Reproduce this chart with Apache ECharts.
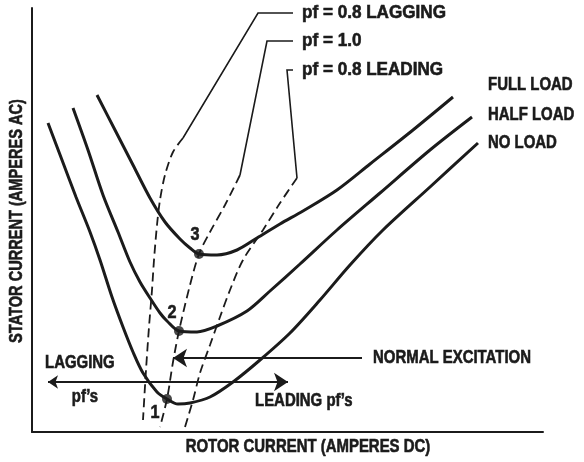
<!DOCTYPE html>
<html>
<head>
<meta charset="utf-8">
<script src="https://cdn.jsdelivr.net/npm/echarts/dist/echarts.min.js"></script>
<style>
html, body { margin: 0; padding: 0; background: #ffffff; }
#chart { width: 584px; height: 462px; }
</style>
</head>
<body>
<div id="chart"></div>
<script>
// V-curves of a synchronous motor: stator current against field (rotor) current.
// Units are arbitrary: the plot carries no tick values.

const curveNames = ['FULL LOAD', 'HALF LOAD', 'NO LOAD'];

// [rotor current, stator current]
const fullLoad = [
  [65, 337], [83, 302], [101, 267], [118, 234], [133, 210], [148, 193], [158, 184],
  [167, 178], [185, 177], [205, 182], [225, 194], [248, 208], [271, 221], [305, 242],
  [338, 268], [381, 302], [421, 335]
];
const halfLoad = [
  [41, 324], [56, 282], [71, 237], [86, 200], [98, 170], [108, 150], [118, 134],
  [128, 119], [135, 111], [147, 101], [165, 100], [185, 106], [215, 121], [238, 141],
  [268, 168], [305, 202], [348, 239], [398, 282], [440, 315]
];
const noLoad = [
  [16, 309], [30, 272], [44, 235], [58, 200], [68, 172], [80, 135], [91, 105],
  [101, 80], [111, 59], [125, 40], [135, 33], [146, 28], [158, 29], [178, 35],
  [201, 50], [228, 72], [258, 99], [288, 132], [318, 167], [351, 202], [398, 245],
  [446, 289]
];

// Constant power-factor loci crossing the V-curves
const pfNames = ['pf = 0.8 LAGGING', 'pf = 1.0', 'pf = 0.8 LEADING'];
const pfLagging = [
  [151, 294], [141, 280], [133, 257], [128, 232], [125, 207], [122, 172],
  [120, 142], [117, 105], [114, 62], [111, 12]
];
const pfUnity = [
  [208, 257], [193, 227], [178, 200], [167, 178], [158, 147], [147, 101],
  [141, 70], [135, 33], [128, 5]
];
const pfLeading = [
  [265, 254], [248, 229], [231, 202], [211, 172], [198, 142], [188, 115],
  [178, 87], [168, 59], [161, 32], [153, 5]
];

// Unity-pf operating points (entries of pfUnity lying on each V-curve) and their numbers
const unityPointIndex = [3, 5, 7];
const pointLabels = ['3', '2', '1'];

const regionTexts = {
  lagging: 'LAGGING',
  pfs: 'pf\u2019s',
  leading: 'LEADING pf\u2019s',
  normal: 'NORMAL EXCITATION'
};
const xTitle = 'ROTOR CURRENT (AMPERES DC)';
const yTitle = 'STATOR CURRENT (AMPERES AC)';

// ---- layout (data units) ----
const layout = {
  pfTextAt: [[270, 419], [270, 391], [270, 362]],
  leaders: [
    [[261, 419], [226, 419], [151, 294]],
    [[261, 391], [235, 391], [208, 257]],
    [[261, 362], [255, 362], [265, 254]]
  ],
  curveTextAt: [[456, 347], [456, 317], [456, 289]],
  pointLabelAt: [[163, 197], [140, 119], [123, 19]],
  laggingAt: [13, 69],
  pfsAt: [53, 35],
  leadingAt: [223, 31],
  normalAt: [341, 74],
  xTitleAt: [276, -15],
  yTitleAt: [-15, 211],
  pfArrow: [[16, 50], [256, 50]],
  normalArrow: [[330, 74], [141, 74]]
};

const INK = '#1b1b1b';
const FONT_FAMILY = '"Liberation Sans", Arial, sans-serif';
const NARROW = 0.83;

const curves = [fullLoad, halfLoad, noLoad];
const unityPoints = unityPointIndex.map(i => pfUnity[i]);

const series = [];

// V-curves
curves.forEach((c, i) => {
  series.push({
    type: 'line',
    name: curveNames[i],
    data: c,
    smooth: 0.3,
    showSymbol: false,
    silent: true,
    lineStyle: { color: INK, width: 3 },
    z: 3
  });
});

// power-factor loci (dashed)
[pfLagging, pfUnity, pfLeading].forEach((c, i) => {
  series.push({
    type: 'line',
    name: pfNames[i],
    data: c,
    smooth: 0.3,
    showSymbol: false,
    silent: true,
    lineStyle: { color: INK, width: 1.8, type: [9, 5] },
    z: 2
  });
});

// leader lines from the pf captions
series.push({
  type: 'lines',
  coordinateSystem: 'cartesian2d',
  polyline: true,
  silent: true,
  symbol: ['none', 'none'],
  lineStyle: { color: INK, width: 1.6, opacity: 1 },
  data: layout.leaders.map(c => ({ coords: c })),
  z: 2
});

// dots at the unity-pf points
series.push({
  type: 'scatter',
  data: unityPoints,
  symbolSize: 10,
  itemStyle: { color: INK },
  silent: true,
  z: 6
});

// arrows: lagging / leading range and normal excitation
series.push({
  type: 'lines',
  coordinateSystem: 'cartesian2d',
  silent: true,
  symbol: ['arrow', 'arrow'],
  symbolSize: [10, 14],
  lineStyle: { color: INK, width: 2, opacity: 1 },
  data: [{ coords: layout.pfArrow }],
  z: 4
});
series.push({
  type: 'lines',
  coordinateSystem: 'cartesian2d',
  silent: true,
  symbol: ['none', 'arrow'],
  symbolSize: [10, 14],
  lineStyle: { color: INK, width: 2, opacity: 1 },
  data: [{ coords: layout.normalArrow }],
  z: 4
});

const chart = echarts.init(document.getElementById('chart'), null, { renderer: 'canvas' });
chart.setOption({
  backgroundColor: '#ffffff',
  animation: false,
  grid: { left: 32, top: 8, right: 41, bottom: 30, containLabel: false, outerBoundsMode: 'none' },
  xAxis: {
    type: 'value', min: 0, max: 511,
    axisLine: { show: true, onZero: false, lineStyle: { color: INK, width: 2 } },
    axisTick: { show: false }, axisLabel: { show: false }, splitLine: { show: false }
  },
  yAxis: {
    type: 'value', min: 0, max: 424,
    axisLine: { show: true, onZero: false, lineStyle: { color: INK, width: 2 } },
    axisTick: { show: false }, axisLabel: { show: false }, splitLine: { show: false }
  },
  series: series
});

// Captions: condensed heavy lettering, placed through the grid's coordinate system
function caption(text, at, opts) {
  opts = opts || {};
  const p = chart.convertToPixel({ gridIndex: 0 }, at);
  return {
    type: 'text',
    x: p[0],
    y: p[1],
    rotation: opts.rotation || 0,
    scaleX: opts.scaleX || NARROW,
    silent: true,
    z: 10,
    style: {
      text: text,
      fill: INK,
      stroke: INK,
      lineWidth: 0.6,
      font: 'bold ' + (opts.size || 18) + 'px ' + FONT_FAMILY,
      textAlign: opts.align || 'left',
      textVerticalAlign: 'middle'
    }
  };
}

const captions = [];
pfNames.forEach((t, i) => captions.push(caption(t, layout.pfTextAt[i], { scaleX: 0.95, size: 18 })));
curveNames.forEach((t, i) => captions.push(caption(t, layout.curveTextAt[i])));
pointLabels.forEach((t, i) => captions.push(caption(t, layout.pointLabelAt[i], { align: 'center', scaleX: 0.9 })));
captions.push(caption(regionTexts.lagging, layout.laggingAt));
captions.push(caption(regionTexts.pfs, layout.pfsAt, { align: 'center' }));
captions.push(caption(regionTexts.leading, layout.leadingAt));
captions.push(caption(regionTexts.normal, layout.normalAt));
captions.push(caption(xTitle, layout.xTitleAt, { align: 'center' }));
captions.push(caption(yTitle, layout.yTitleAt, { align: 'center', rotation: Math.PI / 2, scaleX: 0.81 }));

chart.setOption({ graphic: captions });
</script>
</body>
</html>
